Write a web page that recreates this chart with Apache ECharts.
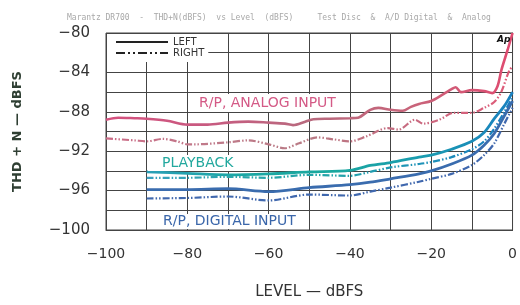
<!DOCTYPE html>
<html>
<head>
<meta charset="utf-8">
<script src="https://cdn.jsdelivr.net/npm/echarts@6/dist/echarts.min.js"></script>
<style>
  html, body { margin: 0; padding: 0; background: #fff; }
  #chart { width: 520px; height: 305px; }
</style>
</head>
<body>
<div id="chart"></div>
<script>
// levels (dBFS) and THD+N readings (dBFS)
const analogLevels = [-100, -97, -93, -90, -85, -80, -75, -70, -65, -60, -56, -54, -51, -49, -45, -40, -38, -35, -33, -30, -27, -25, -23, -20, -17, -15, -14, -12.7, -10, -7, -5, -3.7, -2.7, -1.2, 0];
const analogLeft = [-88.8, -88.6, -88.65, -88.7, -88.9, -89.3, -89.3, -89.1, -89.0, -89.1, -89.2, -89.35, -89.0, -88.75, -88.7, -88.65, -88.6, -87.8, -87.6, -87.8, -87.9, -87.5, -87.2, -86.9, -86.2, -85.7, -85.5, -86.0, -85.8, -85.9, -86.1, -85.4, -83.7, -81.7, -80.0];

const analogRLevels = [-100, -93, -90, -86, -82.5, -80, -78, -70, -65, -60, -56, -52.5, -48, -44, -40, -36, -30.7, -28, -24, -22, -18, -14.5, -12, -10, -7, -4.5, -2.8, -0.8, 0];
const analogRight = [-90.7, -90.9, -91.0, -90.75, -91.0, -91.3, -91.3, -91.1, -90.9, -91.3, -91.7, -91.2, -90.6, -90.8, -91.0, -90.5, -89.65, -89.8, -88.8, -89.2, -88.8, -88.1, -88.1, -88.1, -87.6, -87.0, -86.0, -83.8, -83.4];

const curveLevels = [-90, -80, -70, -60, -50, -40, -35, -30, -23, -20, -15, -10, -7, -4.5, -2, 0];
const playbackLeft = [-94.1, -94.25, -94.4, -94.3, -94.1, -93.95, -93.45, -93.15, -92.6, -92.4, -91.8, -91.0, -90.1, -88.7, -87.4, -86.0];
const playbackRight = [-94.7, -94.7, -94.6, -94.7, -94.4, -94.5, -94.1, -93.65, -93.3, -93.1, -92.6, -91.8, -91.0, -89.7, -88.0, -86.5];
const digitalLeft = [-95.9, -95.9, -95.8, -96.1, -95.7, -95.4, -95.15, -94.8, -94.3, -94.0, -93.3, -92.4, -91.4, -90.2, -88.4, -86.9];
const digitalRight = [-96.8, -96.75, -96.6, -97.0, -96.4, -96.5, -96.1, -95.7, -95.1, -94.8, -94.3, -93.4, -92.4, -91.2, -89.2, -87.6];

const xTicks = [-100, -80, -60, -40, -20, 0];
const yTicks = [-100, -96, -92, -88, -84, -80];

const pairs = (xs, ys) => xs.map((x, i) => [x, ys[i]]);
const minus = v => (v < 0 ? '\u2212' + Math.abs(v) : String(v));

// colour drifts along each trace, like the original pen plot
const grad = (stops) => new echarts.graphic.LinearGradient(0, 0, 1, 0, stops.map((c, i) => ({ offset: i / (stops.length - 1), color: c })));

const solid = 'solid';
const dashDot = [7, 2, 1.5, 2, 1.5, 2];
const gridColor = '#444';

const chart = echarts.init(document.getElementById('chart'), null, { renderer: 'canvas' });

const mkSeries = (name, data, color, type, width) => ({
    name: name,
    type: 'line',
    data: data,
    showSymbol: false,
    symbol: 'none',
    smooth: 0.3,
    silent: true,
    itemStyle: { color: '#222' },
    lineStyle: { color: color, width: width, type: type },
    z: 3
});

const option = {
    animation: false,
    title: {
        text: 'Marantz DR700  -  THD+N(dBFS)  vs Level  (dBFS)     Test Disc  &  A/D Digital  &  Analog',
        left: 62,
        top: 9,
        textStyle: { fontSize: 8, fontWeight: 'normal', color: '#a8a8a8', fontFamily: 'DejaVu Sans Mono' }
    },
    legend: {
        left: 107,
        top: 34,
        orient: 'vertical',
        selectedMode: false,
        backgroundColor: '#fff',
        padding: [3, 4, 4, 8],
        itemWidth: 52,
        itemHeight: 10,
        itemGap: 1,
        itemStyle: { opacity: 0 },
        data: ['LEFT', 'RIGHT'],
        textStyle: { fontSize: 10, color: '#333', fontFamily: 'DejaVu Sans' }
    },
    grid: {
        left: 106, right: 5, top: 33, bottom: 71,
        show: true, borderColor: gridColor, borderWidth: 1
    },
    xAxis: {
        type: 'value',
        min: -100, max: 0, interval: 10,
        name: 'LEVEL \u2014 dBFS',
        nameLocation: 'middle',
        nameGap: 55,
        nameTextStyle: { fontSize: 15, color: '#333', fontFamily: 'DejaVu Sans' },
        axisLine: { show: true, lineStyle: { color: gridColor } },
        axisTick: { show: false },
        axisLabel: {
            margin: 17,
            fontSize: 14,
            color: '#333',
            fontFamily: 'DejaVu Sans',
            formatter: v => (xTicks.includes(v) ? minus(v) : '')
        },
        splitLine: { show: true, lineStyle: { color: gridColor, width: 1 } }
    },
    yAxis: {
        type: 'value',
        min: -100, max: -80, interval: 2,
        name: 'THD + N \u2014 dBFS',
        nameLocation: 'middle',
        nameGap: 82,
        nameTextStyle: { fontSize: 13, fontWeight: 'bold', color: '#2f3f33', fontFamily: 'DejaVu Sans' },
        axisLine: { show: true, lineStyle: { color: gridColor } },
        axisTick: { show: false },
        axisLabel: {
            margin: 16,
            fontSize: 15,
            color: '#333',
            fontFamily: 'DejaVu Sans',
            formatter: v => (yTicks.includes(v) ? minus(v) : '')
        },
        splitLine: { show: true, lineStyle: { color: gridColor, width: 1 } }
    },
    graphic: [
        {
            type: 'text', left: 193, top: 94, z: 10,
            style: { text: 'R/P, ANALOG INPUT', fill: '#d45a86', font: '14px "DejaVu Sans"', backgroundColor: '#fff', padding: [2, 6, 2, 6] }
        },
        {
            type: 'text', left: 148, top: 155, z: 10,
            style: { text: 'PLAYBACK', fill: '#22a89e', font: '14px "DejaVu Sans"', backgroundColor: '#fff', padding: [1, 8, 1, 14] }
        },
        {
            type: 'text', left: 149, top: 214, z: 10,
            style: { text: 'R/P, DIGITAL INPUT', fill: '#3a66aa', font: '14px "DejaVu Sans"', backgroundColor: '#fff', padding: [0, 4, 1, 14] }
        },
        {
            type: 'text', left: 497, top: 35, z: 10,
            style: { text: 'Ap', fill: '#111', font: 'italic bold 9px "DejaVu Sans"' }
        }
    ],
    series: [
        mkSeries('LEFT', [], '#222', solid, 1.6),
        mkSeries('RIGHT', [], '#222', [9, 3, 2, 3, 2, 3], 2.4),
        mkSeries('Analog L', pairs(analogLevels, analogLeft), grad(['#d6507e', '#c85a80', '#b86a7e', '#c8647a', '#e04a70']), solid, 2.6),
        mkSeries('Analog R', pairs(analogRLevels, analogRight), grad(['#cc6a86', '#c07a8a', '#b87a84', '#c86a80', '#e05a78']), dashDot, 2.2),
        mkSeries('Playback L', pairs(curveLevels, playbackLeft), grad(['#2a9fb8', '#1aa6a4', '#1aa89e', '#1a9cb0', '#1a80c0']), solid, 2.8),
        mkSeries('Playback R', pairs(curveLevels, playbackRight), grad(['#3aa0c0', '#28a6aa', '#22a4a8', '#1e92b8', '#1a7cc0']), dashDot, 2.2),
        mkSeries('Digital L', pairs(curveLevels, digitalLeft), '#3a6cae', solid, 2.8),
        mkSeries('Digital R', pairs(curveLevels, digitalRight), '#4068ae', dashDot, 2.2)
    ]
};

chart.setOption(option);
</script>
</body>
</html>
